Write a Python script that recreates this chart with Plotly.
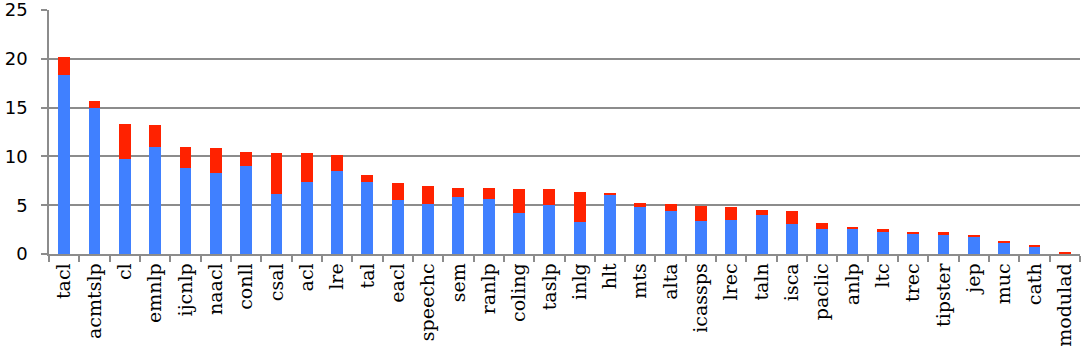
import plotly.graph_objects as go

categories = ["tacl", "acmtslp", "cl", "emnlp", "ijcnlp", "naacl", "conll", "csal", "acl", "lre",
              "tal", "eacl", "speechc", "sem", "ranlp", "coling", "taslp", "inlg", "hlt", "mts",
              "alta", "icassps", "lrec", "taln", "isca", "paclic", "anlp", "ltc", "trec", "tipster",
              "jep", "muc", "cath", "modulad"]
totals = [20.2, 15.7, 13.35, 13.2, 11.0, 10.85, 10.5, 10.35, 10.3, 10.15,
          8.1, 7.3, 6.93, 6.8, 6.73, 6.63, 6.63, 6.32, 6.25, 5.26,
          5.12, 4.92, 4.85, 4.5, 4.4, 3.18, 2.77, 2.56, 2.29, 2.22,
          1.95, 1.33, 0.85, 0.13]
blue_vals = [18.3, 15.0, 9.7, 11.0, 8.85, 8.33, 9.0, 6.15, 7.4, 8.5,
             7.4, 5.56, 5.12, 5.84, 5.67, 4.23, 4.99, 3.25, 6.05, 4.78,
             4.44, 3.38, 3.52, 3.96, 3.1, 2.53, 2.55, 2.29, 2.08, 1.98,
             1.84, 1.16, 0.72, 0.0]
red_vals = [round(t - b, 2) for t, b in zip(totals, blue_vals)]

fig = go.Figure()
fig.add_trace(go.Bar(x=categories, y=blue_vals, marker=dict(color="#4080FF", line=dict(width=0))))
fig.add_trace(go.Bar(x=categories, y=red_vals, marker=dict(color="#FF2200", line=dict(width=0))))

grid = "#8c8c8c"
fig.update_layout(
    barmode="stack",
    bargap=0.61,
    width=1084, height=363,
    margin=dict(l=49, r=4, t=10, b=109, autoexpand=False),
    paper_bgcolor="white", plot_bgcolor="white",
    showlegend=False,
    xaxis=dict(type="category", tickson="boundaries", ticks="outside", ticklen=6,
               tickwidth=1.5, tickcolor=grid, showline=True, linecolor=grid, linewidth=1.5,
               tickangle=-90, showgrid=False, automargin=False,
               ticklabeloverflow="allow",
               tickfont=dict(family="DejaVu Serif", size=19, color="black")),
    yaxis=dict(range=[0, 25], dtick=5, ticks="outside", ticklen=6, tickwidth=1.5,
               tickcolor=grid, gridcolor=grid, gridwidth=1.5, showline=True,
               linecolor=grid, linewidth=1.5, zeroline=False, automargin=False,
               ticklabeloverflow="allow", ticklabelstandoff=10,
               tickfont=dict(family="DejaVu Sans", size=18, color="black")),
)
fig.write_html("out.html", config={"displayModeBar": False},
               post_script="document.body.style.margin='0';document.body.style.overflow='hidden';")
